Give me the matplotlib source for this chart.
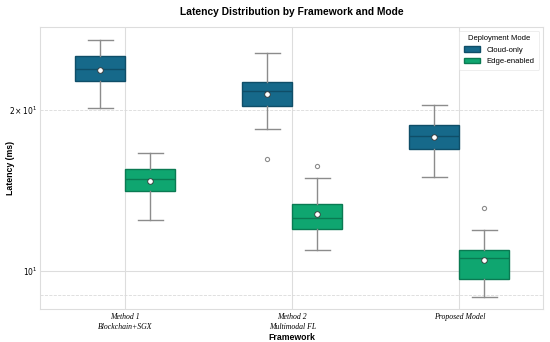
import matplotlib
matplotlib.use("Agg")
import matplotlib.pyplot as plt
from matplotlib.patches import Patch

plt.rcParams["mathtext.fontset"] = "stix"

# Values (ms)
frameworks = ["Method 1\nBlockchain+SGX", "Method 2\nMultimodal FL", "Proposed Model"]
modes = ["Cloud-only", "Edge-enabled"]

cloud_whislo = [20.2, 18.45, 15.0]
cloud_q1 = [22.7, 20.35, 16.9]
cloud_med = [23.85, 21.75, 17.85]
cloud_q3 = [25.25, 22.55, 18.75]
cloud_whishi = [27.1, 25.6, 20.4]
cloud_mean = [23.8, 21.45, 17.8]
cloud_fliers = [[], [16.2], []]

edge_whislo = [12.45, 10.95, 8.95]
edge_q1 = [14.1, 12.0, 9.65]
edge_med = [14.85, 12.55, 10.55]
edge_q3 = [15.5, 13.35, 10.95]
edge_whishi = [16.65, 14.95, 11.95]
edge_mean = [14.7, 12.75, 10.5]
edge_fliers = [[], [15.7], [13.1]]

colors = {"Cloud-only": "#16698a", "Edge-enabled": "#0fa670"}
dark = {"Cloud-only": "#0f4e68", "Edge-enabled": "#0a7a52"}


def make_stats(lo, q1, med, q3, hi, mean, fl):
    return [dict(whislo=a, q1=b, med=c, q3=d, whishi=e, mean=f, fliers=g)
            for a, b, c, d, e, f, g in zip(lo, q1, med, q3, hi, mean, fl)]


stats = {
    "Cloud-only": make_stats(cloud_whislo, cloud_q1, cloud_med, cloud_q3,
                             cloud_whishi, cloud_mean, cloud_fliers),
    "Edge-enabled": make_stats(edge_whislo, edge_q1, edge_med, edge_q3,
                               edge_whishi, edge_mean, edge_fliers),
}

fig, ax = plt.subplots(figsize=(5.5, 3.42), dpi=100)
fig.subplots_adjust(left=0.073, right=0.987, top=0.921, bottom=0.097)

offsets = {"Cloud-only": -0.15, "Edge-enabled": 0.15}
for mode in modes:
    pos = [i + offsets[mode] for i in range(len(frameworks))]
    ax.bxp(stats[mode], positions=pos, widths=0.3, patch_artist=True,
           showmeans=True, capwidths=0.15,
           boxprops=dict(facecolor=colors[mode], edgecolor=dark[mode], linewidth=1.0),
           medianprops=dict(color=dark[mode], linewidth=1.0),
           whiskerprops=dict(color="#8c8c8c", linewidth=1.0),
           capprops=dict(color="#8c8c8c", linewidth=1.0),
           meanprops=dict(marker="o", markerfacecolor="white",
                          markeredgecolor="#333333", markersize=4, markeredgewidth=0.6),
           flierprops=dict(marker="o", markerfacecolor="none",
                           markeredgecolor="#8c8c8c", markersize=3, markeredgewidth=0.8),
           zorder=3)

ax.set_yscale("log")
ax.set_ylim(8.49, 28.6)
ax.set_xlim(-0.51, 2.5)
ax.set_xticks(range(len(frameworks)))
ax.set_xticklabels(frameworks, fontfamily="Liberation Serif", fontstyle="italic",
                   fontsize=5.6, linespacing=1.4)
ax.tick_params(axis="x", which="both", length=0, pad=3)
ax.tick_params(axis="y", which="both", length=0, pad=2, labelsize=5.5)

ax.grid(True, which="major", color="#dddddd", linewidth=0.8, zorder=0)
ax.grid(True, which="minor", axis="y", color="#dadada", linewidth=0.6,
        linestyle="--", zorder=0)
ax.set_axisbelow(True)
for s in ax.spines.values():
    s.set_color("#dddddd")
    s.set_linewidth(0.8)

ax.set_title("Latency Distribution by Framework and Mode", fontsize=7.4,
             fontweight="bold", fontfamily="Liberation Sans", pad=9)
ax.set_xlabel("Framework", fontsize=6.3, fontweight="bold",
              fontfamily="Liberation Sans", labelpad=1)
ax.set_ylabel("Latency (ms)", fontsize=6.3, fontweight="bold",
              fontfamily="Liberation Sans")
ax.yaxis.set_label_coords(-0.05, 0.5)

handles = [Patch(facecolor=colors[m], edgecolor=dark[m], label=m) for m in modes]
leg = ax.legend(handles=handles, title="Deployment Mode", loc="upper right",
                frameon=True, title_fontsize=5.5,
                prop=dict(family="Liberation Sans", size=5.5),
                handlelength=2.2, handleheight=0.8, borderpad=0.6)
leg.get_frame().set_edgecolor("#e6e6e6")
leg.get_frame().set_linewidth(0.6)
leg.get_title().set_fontfamily("Liberation Sans")

fig.savefig("out.png", dpi=100)
